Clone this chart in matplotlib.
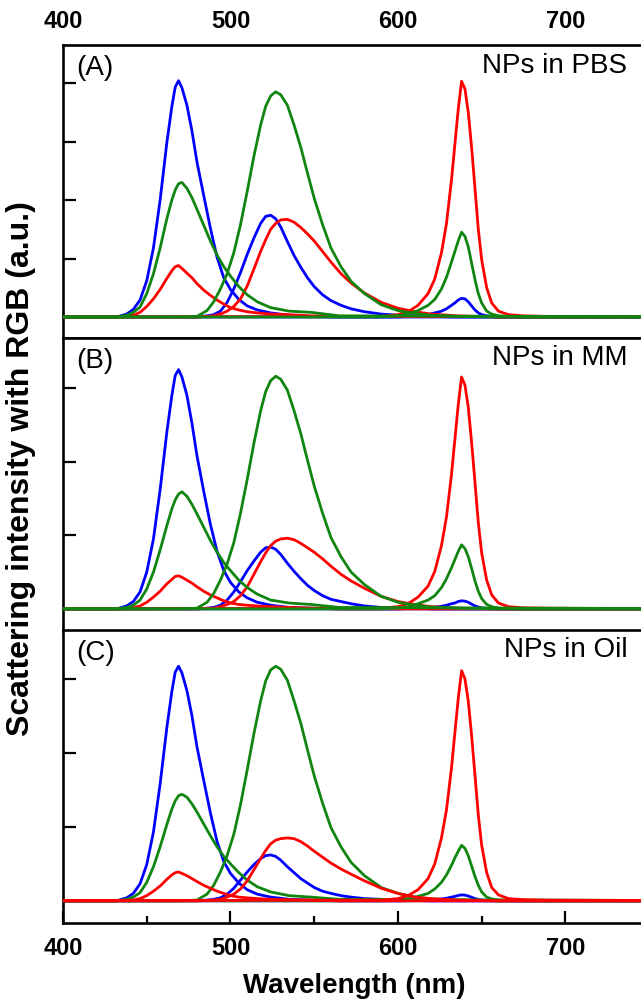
import matplotlib
matplotlib.use("Agg")
import matplotlib.pyplot as plt
from matplotlib.ticker import FixedLocator

plt.rcParams['font.family'] = ['Liberation Sans', 'DejaVu Sans']

# wavelength nodes (nm) for the three scattering bands
wl_1 = [400, 432, 438, 442, 446, 450, 454, 458, 462, 465, 467, 469, 471, 474, 477,
        480, 484, 488, 492, 496, 500, 505, 510, 516, 524, 535, 548, 565, 800]
wl_2 = [400, 470, 480, 486, 490, 494, 498, 502, 506, 510, 514, 518, 521, 524, 527, 530,
        534, 538, 542, 546, 550, 555, 560, 566, 572, 580, 590, 600, 610, 620, 635, 660, 800]
wl_3 = [400, 590, 600, 606, 612, 618, 622, 626, 629, 632, 634, 636, 638, 640, 642, 644,
        646, 648, 650, 653, 656, 660, 666, 675, 690, 800]

# (A) NPs in PBS
pbs_b1 = [0, 0, 0.05, 0.13, 0.29, 0.62, 1.18, 2.0, 2.98, 3.6, 3.93, 4.04, 3.92, 3.62, 3.18,
          2.65, 2.08, 1.52, 1.02, 0.67, 0.47, 0.30, 0.19, 0.12, 0.07, 0.03, 0.01, 0, 0]
pbs_g1 = [0, 0, 0.03, 0.08, 0.17, 0.4, 0.74, 1.18, 1.68, 2.0, 2.17, 2.28, 2.3, 2.2, 2.04,
          1.84, 1.57, 1.3, 1.06, 0.86, 0.70, 0.52, 0.38, 0.26, 0.16, 0.1, 0.08, 0.02, 0]
pbs_r1 = [0, 0, 0.01, 0.03, 0.08, 0.18, 0.31, 0.47, 0.66, 0.79, 0.86, 0.88, 0.83, 0.75, 0.67,
          0.57, 0.46, 0.37, 0.29, 0.22, 0.16, 0.12, 0.09, 0.07, 0.05, 0.04, 0.02, 0.01, 0]
pbs_g2 = [0, 0, 0.01, 0.11, 0.26, 0.48, 0.74, 1.1, 1.58, 2.15, 2.75, 3.28, 3.6, 3.78, 3.85, 3.8,
          3.62, 3.28, 2.9, 2.46, 2.03, 1.58, 1.18, 0.86, 0.61, 0.4, 0.21, 0.11, 0.06, 0.03, 0.01, 0, 0]
pbs_b2 = [0, 0, 0, 0.02, 0.04, 0.1, 0.25, 0.48, 0.76, 1.07, 1.35, 1.6, 1.72, 1.74, 1.68, 1.54,
          1.29, 1.05, 0.85, 0.67, 0.52, 0.38, 0.28, 0.2, 0.14, 0.09, 0.05, 0.03, 0.02, 0.01, 0, 0, 0]
pbs_r2 = [0, 0, 0, 0.01, 0.02, 0.05, 0.1, 0.18, 0.31, 0.53, 0.82, 1.12, 1.32, 1.5, 1.6, 1.66,
          1.67, 1.62, 1.53, 1.42, 1.3, 1.12, 0.94, 0.74, 0.58, 0.41, 0.25, 0.15, 0.09, 0.05, 0.02, 0, 0]
pbs_r3 = [0, 0.01, 0.04, 0.09, 0.2, 0.4, 0.65, 1.1, 1.6, 2.35, 2.95, 3.55, 4.03, 3.9, 3.5, 2.9,
          2.2, 1.5, 0.98, 0.5, 0.24, 0.1, 0.04, 0.02, 0.01, 0]
pbs_g3 = [0, 0, 0.02, 0.05, 0.11, 0.2, 0.3, 0.48, 0.68, 0.94, 1.12, 1.3, 1.45, 1.38, 1.2, 0.92,
          0.64, 0.4, 0.24, 0.1, 0.05, 0.02, 0.01, 0, 0, 0]
pbs_b3 = [0, 0, 0, 0.01, 0.02, 0.04, 0.07, 0.1, 0.14, 0.2, 0.24, 0.29, 0.32, 0.31, 0.26, 0.19,
          0.12, 0.07, 0.04, 0.02, 0.01, 0, 0, 0, 0, 0]

# (B) NPs in MM
mm_b1 = [0, 0, 0.04, 0.1, 0.23, 0.5, 0.95, 1.62, 2.4, 2.9, 3.17, 3.25, 3.15, 2.9, 2.52,
         2.08, 1.6, 1.15, 0.78, 0.52, 0.36, 0.23, 0.15, 0.09, 0.05, 0.02, 0.01, 0, 0]
mm_g1 = [0, 0, 0.02, 0.05, 0.12, 0.27, 0.5, 0.8, 1.13, 1.36, 1.48, 1.56, 1.59, 1.53, 1.42,
         1.29, 1.11, 0.93, 0.77, 0.63, 0.52, 0.39, 0.29, 0.2, 0.12, 0.08, 0.06, 0.02, 0]
mm_r1 = [0, 0, 0.005, 0.015, 0.04, 0.09, 0.16, 0.24, 0.34, 0.4, 0.44, 0.45, 0.43, 0.39, 0.35,
         0.3, 0.24, 0.19, 0.15, 0.11, 0.08, 0.06, 0.05, 0.04, 0.03, 0.02, 0.01, 0, 0]
mm_g2 = [0, 0, 0.01, 0.09, 0.21, 0.39, 0.61, 0.9, 1.3, 1.76, 2.25, 2.69, 2.95, 3.1, 3.16, 3.12,
         2.97, 2.69, 2.38, 2.02, 1.67, 1.3, 0.97, 0.71, 0.5, 0.33, 0.17, 0.09, 0.05, 0.025, 0.01, 0, 0]
mm_b2 = [0, 0, 0, 0.01, 0.02, 0.05, 0.12, 0.23, 0.37, 0.52, 0.65, 0.77, 0.83, 0.84, 0.81, 0.74,
         0.62, 0.51, 0.41, 0.32, 0.25, 0.18, 0.13, 0.1, 0.07, 0.04, 0.02, 0.01, 0.01, 0, 0, 0, 0]
mm_r2 = [0, 0, 0, 0.005, 0.01, 0.03, 0.06, 0.1, 0.18, 0.3, 0.47, 0.64, 0.76, 0.86, 0.92, 0.95,
         0.96, 0.94, 0.89, 0.83, 0.77, 0.68, 0.58, 0.47, 0.38, 0.28, 0.17, 0.1, 0.06, 0.03, 0.01, 0, 0]
mm_r3 = [0, 0.01, 0.03, 0.07, 0.16, 0.31, 0.51, 0.86, 1.25, 1.83, 2.3, 2.77, 3.15, 3.04, 2.74, 2.26,
         1.72, 1.17, 0.76, 0.39, 0.19, 0.08, 0.03, 0.015, 0.01, 0]
mm_g3 = [0, 0, 0.01, 0.03, 0.07, 0.12, 0.18, 0.29, 0.41, 0.56, 0.67, 0.78, 0.87, 0.82, 0.71, 0.55,
         0.38, 0.24, 0.14, 0.06, 0.03, 0.01, 0.005, 0, 0, 0]
mm_b3 = [0, 0, 0, 0.005, 0.01, 0.015, 0.025, 0.035, 0.05, 0.07, 0.08, 0.1, 0.11, 0.105, 0.09, 0.065,
         0.04, 0.025, 0.015, 0.007, 0.003, 0, 0, 0, 0, 0]

# (C) NPs in Oil
oil_b1 = [0, 0, 0.04, 0.1, 0.23, 0.49, 0.93, 1.58, 2.34, 2.83, 3.09, 3.17, 3.08, 2.84, 2.5,
          2.08, 1.63, 1.19, 0.8, 0.53, 0.37, 0.24, 0.15, 0.09, 0.05, 0.02, 0.01, 0, 0]
oil_g1 = [0, 0, 0.02, 0.05, 0.11, 0.25, 0.46, 0.73, 1.03, 1.24, 1.35, 1.42, 1.44, 1.4, 1.31,
          1.2, 1.04, 0.88, 0.73, 0.6, 0.5, 0.38, 0.28, 0.19, 0.12, 0.07, 0.05, 0.02, 0]
oil_r1 = [0, 0, 0.005, 0.01, 0.03, 0.07, 0.13, 0.2, 0.29, 0.35, 0.38, 0.39, 0.37, 0.34, 0.3,
          0.26, 0.21, 0.17, 0.13, 0.1, 0.07, 0.05, 0.04, 0.03, 0.02, 0.015, 0.01, 0, 0]
oil_g2 = [0, 0, 0.01, 0.09, 0.21, 0.39, 0.61, 0.9, 1.3, 1.77, 2.26, 2.7, 2.97, 3.12, 3.17, 3.13,
          2.98, 2.7, 2.4, 2.04, 1.69, 1.32, 0.99, 0.73, 0.52, 0.34, 0.18, 0.1, 0.05, 0.025, 0.01, 0, 0]
oil_b2 = [0, 0, 0, 0.01, 0.02, 0.04, 0.09, 0.17, 0.28, 0.39, 0.49, 0.57, 0.61, 0.62, 0.6, 0.55,
          0.46, 0.38, 0.3, 0.24, 0.18, 0.13, 0.1, 0.07, 0.05, 0.03, 0.02, 0.01, 0.005, 0, 0, 0, 0]
oil_r2 = [0, 0, 0, 0.005, 0.01, 0.02, 0.05, 0.09, 0.16, 0.27, 0.42, 0.57, 0.68, 0.77, 0.82, 0.84,
          0.85, 0.84, 0.8, 0.74, 0.67, 0.59, 0.51, 0.43, 0.36, 0.27, 0.17, 0.1, 0.05, 0.03, 0.01, 0, 0]
oil_r3 = [0, 0.01, 0.03, 0.07, 0.15, 0.3, 0.5, 0.85, 1.23, 1.8, 2.27, 2.73, 3.11, 3.0, 2.7, 2.23,
          1.7, 1.16, 0.75, 0.38, 0.18, 0.08, 0.03, 0.015, 0.01, 0]
oil_g3 = [0, 0, 0.01, 0.03, 0.06, 0.1, 0.16, 0.25, 0.35, 0.48, 0.58, 0.67, 0.75, 0.71, 0.61, 0.47,
          0.33, 0.21, 0.12, 0.05, 0.025, 0.01, 0.005, 0, 0, 0]
oil_b3 = [0, 0, 0, 0.003, 0.007, 0.01, 0.018, 0.025, 0.035, 0.05, 0.06, 0.072, 0.08, 0.077, 0.065, 0.048,
          0.03, 0.018, 0.01, 0.005, 0.002, 0, 0, 0, 0, 0]

panels = [
    ("(A)", "NPs in PBS", [pbs_b1, pbs_b2, pbs_b3], [pbs_g1, pbs_g2, pbs_g3], [pbs_r1, pbs_r2, pbs_r3]),
    ("(B)", "NPs in MM", [mm_b1, mm_b2, mm_b3], [mm_g1, mm_g2, mm_g3], [mm_r1, mm_r2, mm_r3]),
    ("(C)", "NPs in Oil", [oil_b1, oil_b2, oil_b3], [oil_g1, oil_g2, oil_g3], [oil_r1, oil_r2, oil_r3]),
]
y_limits = [(-0.36, 4.65), (-0.30, 3.68), (-0.30, 3.66)]
y_ticks = [[0, 1, 2, 3, 4], [0, 1, 2, 3], [0, 1, 2, 3]]
x_major = [400, 500, 600, 700]
x_minor = [450, 550, 650, 750]
bottoms = [0.6643, 0.3734, 0.0834]
top_color = ['green', 'green', 'red']
colors = {'blue': '#0000ff', 'green': '#108510', 'red': '#ff0000'}

fig = plt.figure(figsize=(6.41, 10.07), dpi=100)
wls = [wl_1, wl_2, wl_3]
for i, (tag, name, blues, greens, reds) in enumerate(panels):
    ax = fig.add_axes([0.0983, bottoms[i], 1.045, 0.291])
    for col, ser in (('blue', blues), ('red', reds), ('green', greens)):
        z = 4 if col == top_color[i] else 3
        for wl, y in zip(wls, ser):
            ax.plot(wl, y, color=colors[col], lw=2.0, zorder=z, solid_joinstyle='round')
    ax.set_xlim(400, 800)
    ax.set_ylim(*y_limits[i])
    ax.set_yticks(y_ticks[i])
    ax.set_yticklabels([])
    ax.tick_params(axis='y', direction='in', length=9, width=1.6)
    for s in ax.spines.values():
        s.set_linewidth(1.9)
    ax.text(408, 0.92, tag, transform=ax.get_xaxis_transform(), fontsize=20,
            ha='left', va='center')
    ax.text(737, 0.93, name, transform=ax.get_xaxis_transform(), fontsize=20,
            ha='right', va='center')
    ax.xaxis.set_major_locator(FixedLocator(x_major))
    ax.xaxis.set_minor_locator(FixedLocator(x_minor))
    if i == 0:
        ax.tick_params(axis='x', which='both', bottom=False, top=True, length=0,
                       labelbottom=False, labeltop=True, labelsize=17, pad=9)
        for lb in ax.get_xticklabels():
            lb.set_fontweight('bold')
    elif i == 2:
        ax.tick_params(axis='x', which='major', direction='in', length=9, width=1.6,
                       labelsize=17, pad=10)
        ax.tick_params(axis='x', which='minor', direction='in', length=5, width=1.6)
        for lb in ax.get_xticklabels():
            lb.set_fontweight('bold')
    else:
        ax.tick_params(axis='x', which='both', bottom=False, labelbottom=False)

fig.text(0.553, 0.021, "Wavelength (nm)", ha='center', va='center', fontsize=20,
         fontweight='bold')
fig.text(0.033, 0.535, "Scattering intensity with RGB (a.u.)", ha='center', va='center',
         rotation=90, fontsize=23, fontweight='bold')

fig.savefig("out.png", dpi=100)
